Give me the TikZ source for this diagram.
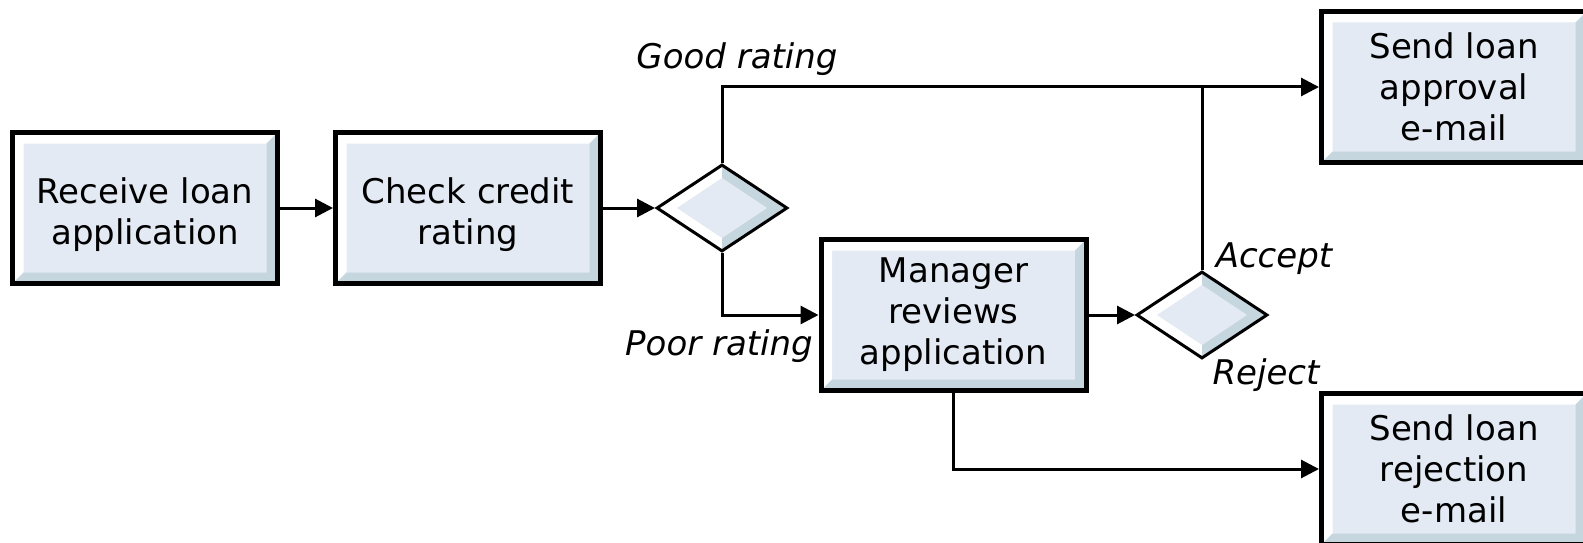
\documentclass[tikz,border=0pt]{standalone}
\usepackage{fontspec}
\setmainfont{DejaVu Sans}
\usetikzlibrary{arrows.meta,shapes.geometric}

\definecolor{boxfill}{HTML}{E3EAF4}
\definecolor{boxshade}{HTML}{C5D6DF}

\newcommand{\firstline}{\rule{0pt}{40pt}}

\tikzset{
  % process step: thick black frame with a bevelled light-blue face
  procbox/.style={draw, line width=5pt, fill=boxfill,
    minimum width=265pt, minimum height=151pt, inner sep=0pt,
    align=center, font=\fontsize{34}{41}\selectfont,
    path picture={
      \fill[white] (path picture bounding box.north west)
        -- (path picture bounding box.north east)
        -- ([xshift=-11pt,yshift=-11pt]path picture bounding box.north east)
        -- ([xshift=11pt,yshift=-11pt]path picture bounding box.north west)
        -- ([xshift=11pt,yshift=11pt]path picture bounding box.south west)
        -- (path picture bounding box.south west) -- cycle;
      \fill[boxshade] (path picture bounding box.south west)
        -- (path picture bounding box.south east)
        -- (path picture bounding box.north east)
        -- ([xshift=-11pt,yshift=-11pt]path picture bounding box.north east)
        -- ([xshift=-11pt,yshift=11pt]path picture bounding box.south east)
        -- ([xshift=11pt,yshift=11pt]path picture bounding box.south west) -- cycle;
    }},
  % decision point: bevelled diamond
  decision/.style={diamond, draw, line width=3pt, fill=boxshade,
    minimum width=131pt, minimum height=87pt, inner sep=0pt,
    path picture={
      \fill[white] (path picture bounding box.north west)
        rectangle (path picture bounding box.south);
      \fill[boxfill] ([xshift=-45pt]path picture bounding box.center)
        -- ([yshift=30pt]path picture bounding box.center)
        -- ([xshift=45pt]path picture bounding box.center)
        -- ([yshift=-30pt]path picture bounding box.center) -- cycle;
    }},
  label/.style={font=\fontsize{34}{41}\selectfont\itshape, inner sep=0pt, anchor=base},
  flow/.style={line width=3pt, -{Triangle[length=18pt,width=18pt]}},
  joint/.style={line width=3pt},
}

\begin{document}
\begin{tikzpicture}[x=1pt, y=-1pt]
  \useasboundingbox (0,0) rectangle (1583,543);
  \clip (0,0) rectangle (1583,543);

  % steps
  \node[procbox] (recv) at (145,208) {\firstline Receive loan\\application};
  \node[procbox] (check) at (468,208) {\firstline Check credit\\rating};
  \node[decision] (rate) at (722,208) {};
  \node[procbox] (mgr) at (953.5,315) {Manager\\reviews\\application};
  \node[decision] (dec) at (1202,315) {};
  \node[procbox] (appr) at (1454,87) {Send loan\\approval\\e-mail};
  \node[procbox] (rej) at (1454,469) {Send loan\\rejection\\e-mail};

  % labels
  \node[label] (good) at (737,69) {Good rating};
  \node[label] (poor) at (719,355) {Poor rating};
  \node[label] (acc) at (1274,267) {Accept};
  \node[label] (rjt) at (1266,384) {Reject};

  % connectors
  \draw[flow] (recv.east) -- (check.west);
  \draw[flow] (check.east) -- (rate.west);
  \draw[flow] (rate.north) |- (appr.west);
  \draw[flow] (rate.south) |- (mgr.west);
  \draw[flow] (mgr.east) -- (dec.west);
  \draw[joint] (dec.north) -- (dec.north |- appr.west);
  \draw[flow] (mgr.south) |- (rej.west);
\end{tikzpicture}
\end{document}
